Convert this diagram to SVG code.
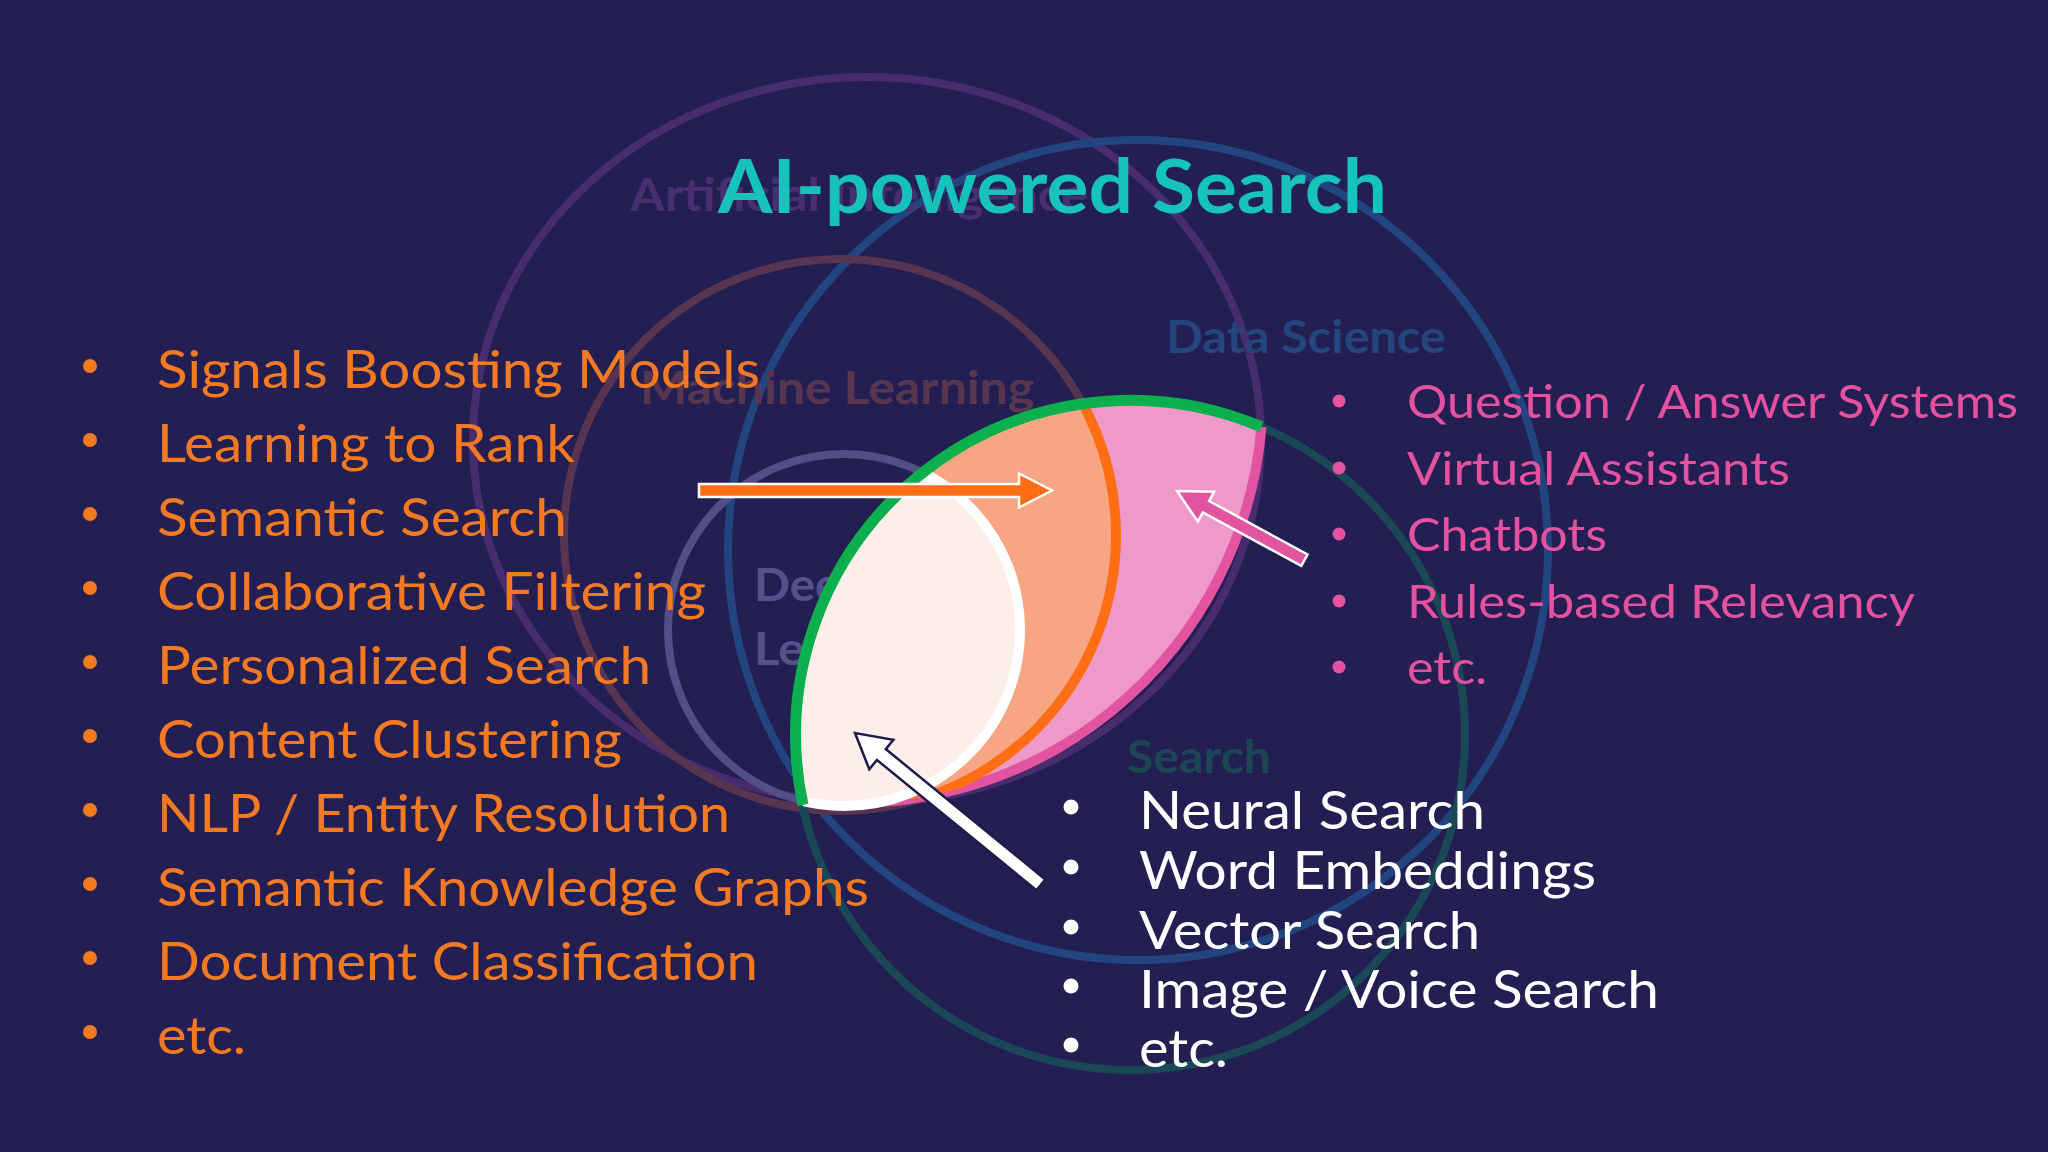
<svg xmlns="http://www.w3.org/2000/svg" width="2048" height="1152" viewBox="0 0 2048 1152">
<defs>
<style>
.ring{fill:none;stroke-width:8}
.faint{font-family:Lato,"Open Sans","Liberation Sans",sans-serif;font-weight:700;font-size:45px}
.li{font-family:Lato,"Open Sans","Liberation Sans",sans-serif;font-size:53px}
.lp{font-family:Lato,"Open Sans","Liberation Sans",sans-serif;font-size:46px}
.or{fill:#F47920}
.pk{fill:#E4529F}
.wh{fill:#FFFFFF}
.title{font-family:Lato,"Open Sans","Liberation Sans",sans-serif;font-weight:700;font-size:74px;fill:#16C2BC}
.arw{stroke-width:2.5;stroke-linejoin:miter}
</style>
<clipPath id="searchClip"><circle cx="1130" cy="735" r="335"/></clipPath>
<clipPath id="lensClip"><path d="M 801.3 799.7 A 335 335 0 0 1 1261.5 426.9 A 410 410 0 0 1 801.3 799.7 Z"/></clipPath>
</defs>
<rect x="0" y="0" width="2048" height="1152" fill="#231F53"/>

<g id="rings">
  <ellipse id="ring-ai" class="ring" cx="867" cy="440" rx="394" ry="363" stroke="#482D6E"/>
  <circle id="ring-ds" class="ring" cx="1138" cy="550" r="410" stroke="#23457F"/>
  <circle id="ring-ml" class="ring" cx="840" cy="535" r="276" stroke="#57344F"/>
  <circle id="ring-dl" class="ring" cx="844" cy="630" r="176" stroke="#524F86"/>
  <circle id="ring-search" class="ring" cx="1130" cy="735" r="335" stroke="#1B4856"/>
</g>

<g id="ring-labels">
  <text id="label-ai" class="faint" x="630" y="211" textLength="458" lengthAdjust="spacingAndGlyphs" fill="#4A2F70">Artificial Intelligence</text>
  <text id="label-ds" class="faint" x="1166" y="353" textLength="280" lengthAdjust="spacingAndGlyphs" fill="#24457D">Data Science</text>
  <text id="label-ml" class="faint" x="640" y="404" textLength="394" lengthAdjust="spacingAndGlyphs" fill="#58364F">Machine Learning</text>
  <text id="label-dl1" class="faint" x="754" y="601" textLength="113" lengthAdjust="spacingAndGlyphs" fill="#55528A">Deep</text>
  <text id="label-dl2" class="faint" x="754" y="665" textLength="187" lengthAdjust="spacingAndGlyphs" fill="#55528A">Learning</text>
  <text id="label-search" class="faint" x="1127" y="773" textLength="144" lengthAdjust="spacingAndGlyphs" fill="#1D4654">Search</text>
</g>

<g id="lens">
  <path d="M 801.3 799.7 A 335 335 0 0 1 1261.5 426.9 A 410 410 0 0 1 801.3 799.7 Z" fill="#EF99C9"/>
  <path d="M 1261.5 426.9 A 410 410 0 0 1 801.3 799.7" fill="none" stroke="#E2549F" stroke-width="10"/>
  <g clip-path="url(#lensClip)">
    <circle cx="840" cy="535" r="276" fill="#F8A584" stroke="#FF6E14" stroke-width="10"/>
  </g>
  <g clip-path="url(#searchClip)">
    <circle cx="844" cy="630" r="176" fill="#FDEEE9" stroke="#FFFFFF" stroke-width="10"/>
  </g>
  <path d="M 803 805 A 335 335 0 0 1 1261.5 426.9" fill="none" stroke="#0BAF4D" stroke-width="11"/>
</g>

<g id="connectors">
  <polygon id="arrow-orange" class="arw" fill="#FF6E14" stroke="#FFFFFF" transform="translate(1052 490.5)" points="-353,-6.5 -33,-6.5 -33,-17 0,0 -33,17 -33,6.5 -353,6.5"/>
  <polygon id="arrow-pink" class="arw" fill="#E2549F" stroke="#FFFFFF" transform="translate(1177 491) rotate(-151.5)" points="-145,-6.5 -33,-6.5 -33,-17 0,0 -33,17 -33,6.5 -145,6.5"/>
  <polygon id="arrow-white" class="arw" fill="#FFFFFF" stroke="#1E1B4B" transform="translate(855 733) rotate(-140.75)" points="-240,-7 -34,-7 -34,-19 0,0 -34,19 -34,7 -240,7"/>
</g>

<g id="list-ml">
  <g class="or">
    <circle cx="90" cy="366" r="7"/><circle cx="90" cy="440" r="7"/><circle cx="90" cy="514" r="7"/><circle cx="90" cy="588" r="7"/><circle cx="90" cy="662" r="7"/>
    <circle cx="90" cy="736" r="7"/><circle cx="90" cy="810" r="7"/><circle cx="90" cy="884" r="7"/><circle cx="90" cy="958" r="7"/><circle cx="90" cy="1032" r="7"/>
  </g>
  <text class="li or" x="157" y="388" textLength="603" lengthAdjust="spacingAndGlyphs">Signals Boosting Models</text>
  <text class="li or" x="157" y="462" textLength="418" lengthAdjust="spacingAndGlyphs">Learning to Rank</text>
  <text class="li or" x="157" y="536" textLength="410" lengthAdjust="spacingAndGlyphs">Semantic Search</text>
  <text class="li or" x="157" y="610" textLength="549" lengthAdjust="spacingAndGlyphs">Collaborative Filtering</text>
  <text class="li or" x="157" y="684" textLength="494" lengthAdjust="spacingAndGlyphs">Personalized Search</text>
  <text class="li or" x="157" y="758" textLength="465" lengthAdjust="spacingAndGlyphs">Content Clustering</text>
  <text class="li or" x="157" y="832" textLength="573" lengthAdjust="spacingAndGlyphs">NLP / Entity Resolution</text>
  <text class="li or" x="157" y="906" textLength="712" lengthAdjust="spacingAndGlyphs">Semantic Knowledge Graphs</text>
  <text class="li or" x="157" y="980" textLength="601" lengthAdjust="spacingAndGlyphs">Document Classification</text>
  <text class="li or" x="157" y="1054" textLength="89" lengthAdjust="spacingAndGlyphs">etc.</text>
</g>

<g id="list-ds">
  <g class="pk">
    <circle cx="1339" cy="401" r="6.5"/><circle cx="1339" cy="468" r="6.5"/><circle cx="1339" cy="534" r="6.5"/><circle cx="1339" cy="601" r="6.5"/><circle cx="1339" cy="667" r="6.5"/>
  </g>
  <text class="lp pk" x="1407" y="418" textLength="611" lengthAdjust="spacingAndGlyphs">Question / Answer Systems</text>
  <text class="lp pk" x="1407" y="485" textLength="383" lengthAdjust="spacingAndGlyphs">Virtual Assistants</text>
  <text class="lp pk" x="1407" y="551" textLength="200" lengthAdjust="spacingAndGlyphs">Chatbots</text>
  <text class="lp pk" x="1407" y="618" textLength="508" lengthAdjust="spacingAndGlyphs">Rules-based Relevancy</text>
  <text class="lp pk" x="1407" y="684" textLength="80" lengthAdjust="spacingAndGlyphs">etc.</text>
</g>

<g id="list-dl">
  <g class="wh">
    <circle cx="1071" cy="807" r="7.5"/><circle cx="1071" cy="867" r="7.5"/><circle cx="1071" cy="927" r="7.5"/><circle cx="1071" cy="986" r="7.5"/><circle cx="1071" cy="1045" r="7.5"/>
  </g>
  <text class="li wh" x="1139" y="829" textLength="346" lengthAdjust="spacingAndGlyphs">Neural Search</text>
  <text class="li wh" x="1139" y="889" textLength="457" lengthAdjust="spacingAndGlyphs">Word Embeddings</text>
  <text class="li wh" x="1139" y="949" textLength="341" lengthAdjust="spacingAndGlyphs">Vector Search</text>
  <text class="li wh" x="1139" y="1008" textLength="520" lengthAdjust="spacingAndGlyphs">Image / Voice Search</text>
  <text class="li wh" x="1139" y="1067" textLength="89" lengthAdjust="spacingAndGlyphs">etc.</text>
</g>

<g id="title">
  <text class="title" x="718" y="213" textLength="669" lengthAdjust="spacingAndGlyphs">AI-powered Search</text>
</g>
</svg>
